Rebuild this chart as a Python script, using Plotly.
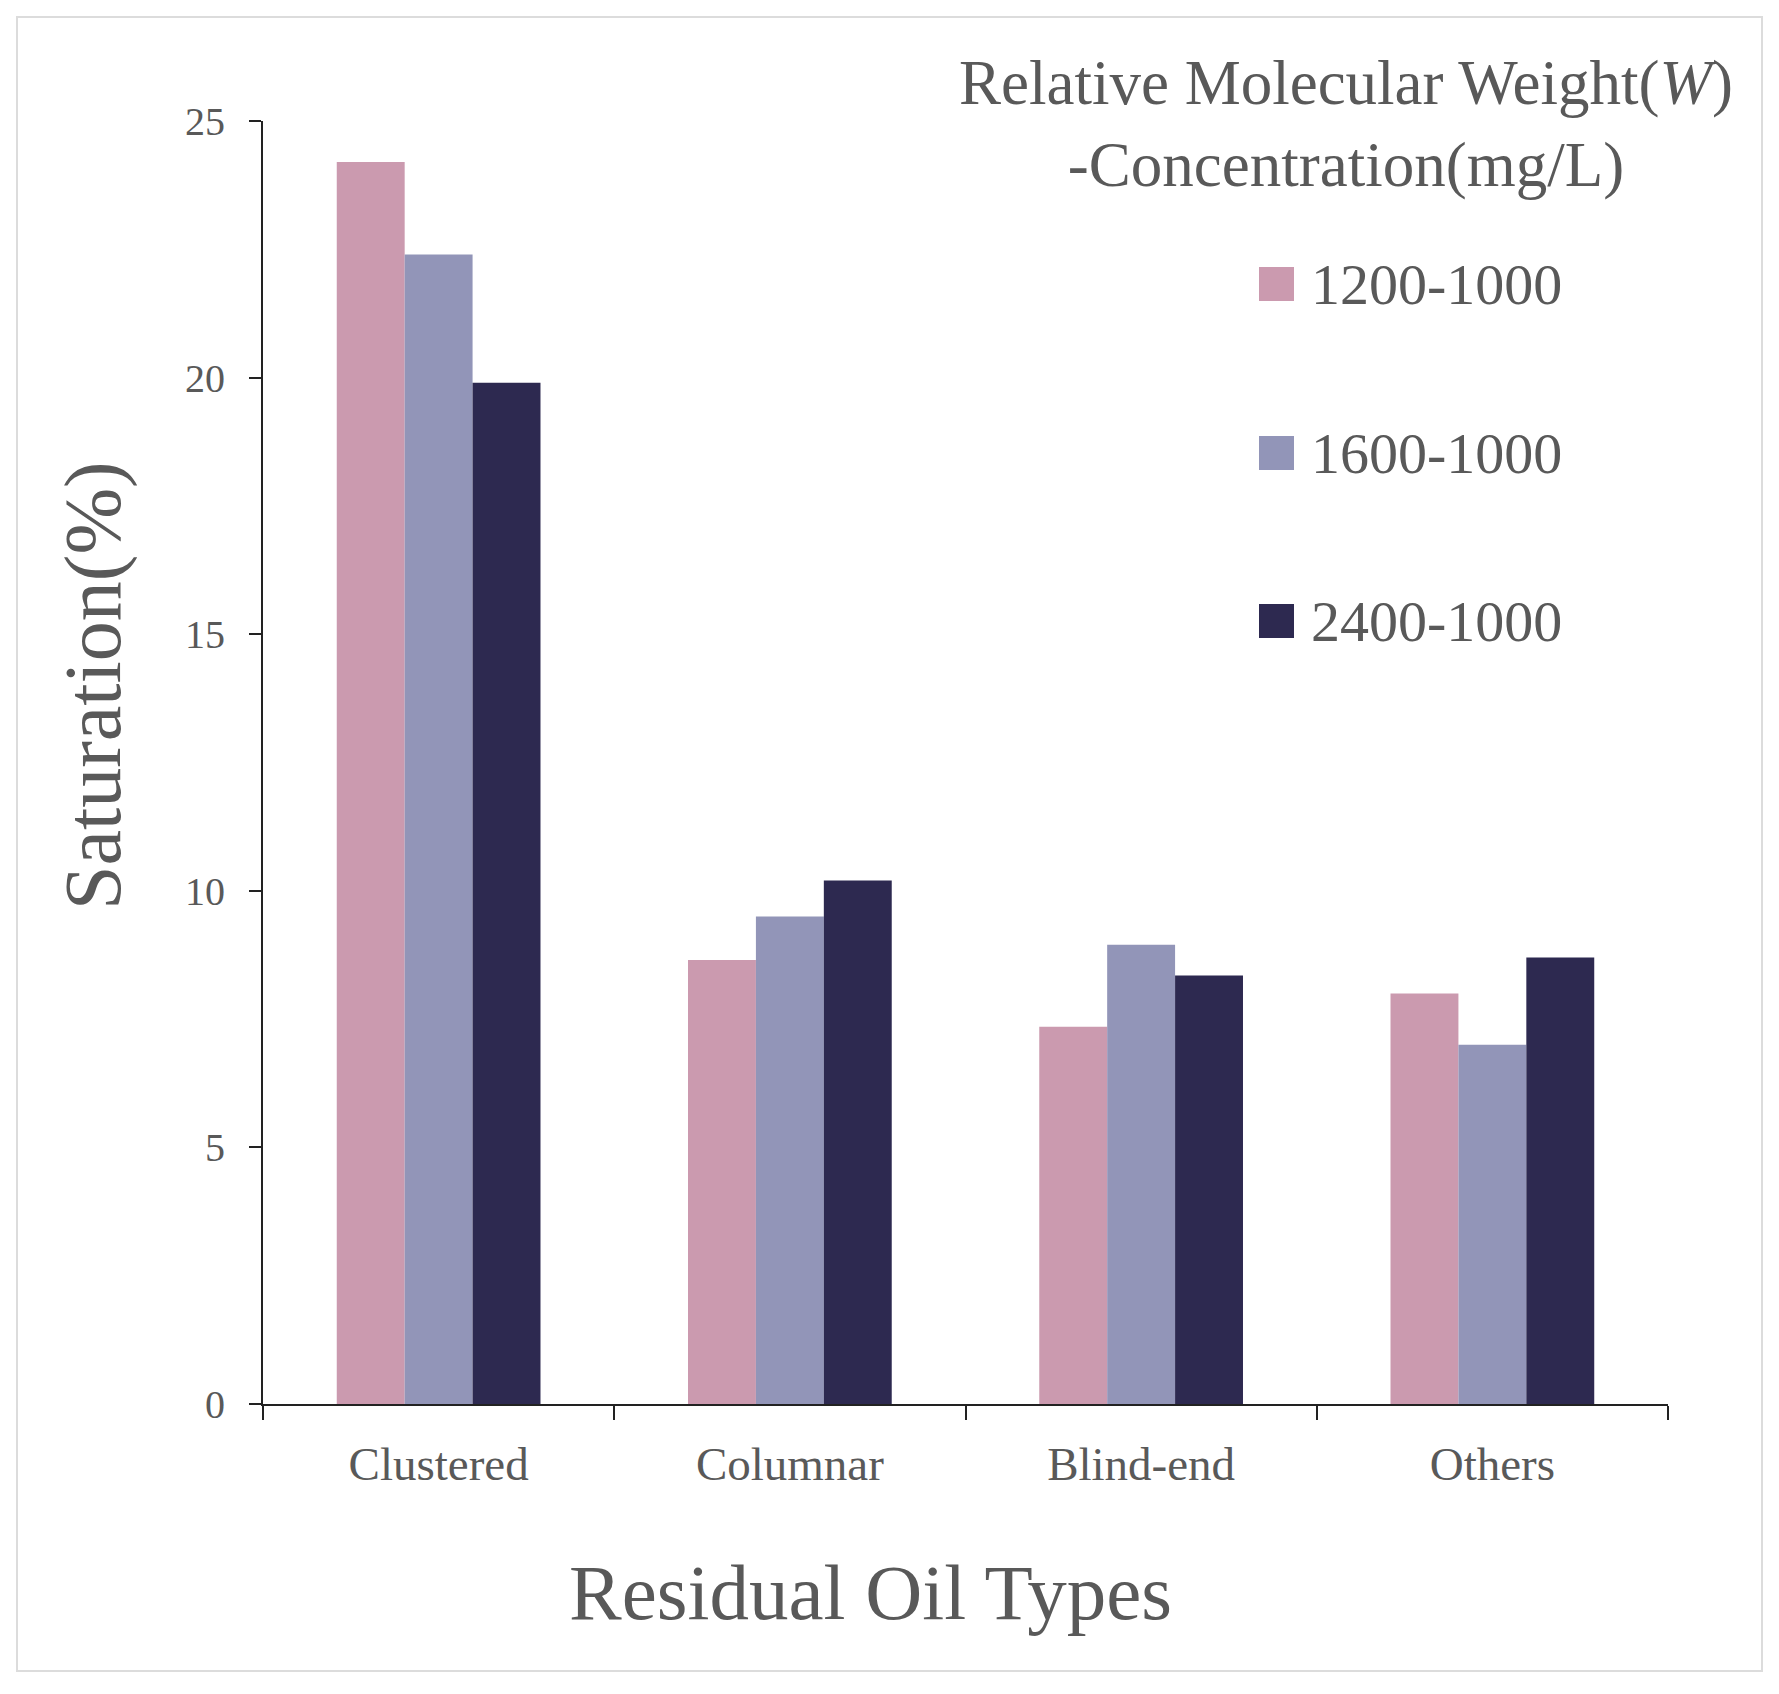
import plotly.graph_objects as go

categories = ["Clustered", "Columnar", "Blind-end", "Others"]
series_names = ["1200-1000", "1600-1000", "2400-1000"]
s1200 = [24.2, 8.65, 7.35, 8.0]
s1600 = [22.4, 9.5, 8.95, 7.0]
s2400 = [19.9, 10.2, 8.35, 8.7]
series_values = [s1200, s1600, s2400]
colors = ["#CB9AAF", "#9295B8", "#2D2950"]
y_ticks = [0, 5, 10, 15, 20, 25]

W, H = 1779, 1694
L, R, T, B = 263, 111, 121, 290
pw = W - L - R
ph = H - T - B

def px(x):
    return (x - L) / pw

def py(y):
    return (H - B - y) / ph

FONT = "Liberation Serif"
GRAY = "#595959"

fig = go.Figure()
for name, vals, col in zip(series_names, series_values, colors):
    fig.add_trace(go.Bar(x=categories, y=vals, name=name,
                         marker=dict(color=col, line=dict(width=0)),
                         showlegend=False))

fig.update_layout(
    width=W, height=H,
    margin=dict(l=L, r=R, t=T, b=B),
    paper_bgcolor="white", plot_bgcolor="white",
    barmode="group", bargap=0.42, bargroupgap=0,
    font=dict(family=FONT, color=GRAY),
)
fig.update_xaxes(
    showline=True, linecolor="#222", linewidth=2,
    ticks="outside", tickson="boundaries", ticklen=14, tickwidth=2, tickcolor="#222",
    tickfont=dict(size=47, color=GRAY, family=FONT), ticklabelstandoff=18,
    showgrid=False, zeroline=False,
)
fig.update_yaxes(
    range=[0, 25], tickvals=y_ticks,
    showline=True, linecolor="#222", linewidth=2,
    ticks="outside", ticklen=12, tickwidth=2, tickcolor="#222",
    tickfont=dict(size=40, color=GRAY, family=FONT), ticklabelstandoff=16,
    showgrid=False, zeroline=False,
)

ann = []
# axis titles
ann.append(dict(text="Saturation(%)", x=px(93), y=py(686), xref="paper", yref="paper",
                showarrow=False, textangle=-90, font=dict(size=80, color=GRAY, family=FONT),
                xanchor="center", yanchor="middle"))
ann.append(dict(text="Residual Oil Types", x=px(870), y=py(1592), xref="paper", yref="paper",
                showarrow=False, font=dict(size=79, color=GRAY, family=FONT),
                xanchor="center", yanchor="middle"))
# legend title
ann.append(dict(text="Relative Molecular Weight(<i>W</i>)<br>-Concentration(mg/L)",
                x=px(1346), y=py(124), xref="paper", yref="paper", showarrow=False,
                align="center", font=dict(size=63, color=GRAY, family=FONT),
                xanchor="center", yanchor="middle"))

shapes = []
item_y = [284, 453, 621]
for name, col, yc in zip(series_names, colors, item_y):
    shapes.append(dict(type="rect", xref="paper", yref="paper",
                       x0=px(1259), x1=px(1294), y0=py(yc + 17), y1=py(yc - 17),
                       fillcolor=col, line=dict(width=0)))
    ann.append(dict(text=name, x=px(1309), y=py(yc), xref="paper", yref="paper",
                    showarrow=False, font=dict(size=58, color=GRAY, family=FONT),
                    xanchor="left", yanchor="middle"))

# outer frame
shapes.append(dict(type="rect", xref="paper", yref="paper",
                   x0=px(17), x1=px(1762), y0=py(1671), y1=py(17),
                   line=dict(color="#dcdcdc", width=2), fillcolor="rgba(0,0,0,0)", layer="below"))

fig.update_layout(annotations=ann, shapes=shapes)
fig.write_html("out.html", config={"displayModeBar": False},
               post_script="document.body.style.margin='0';document.body.style.overflow='hidden';")
